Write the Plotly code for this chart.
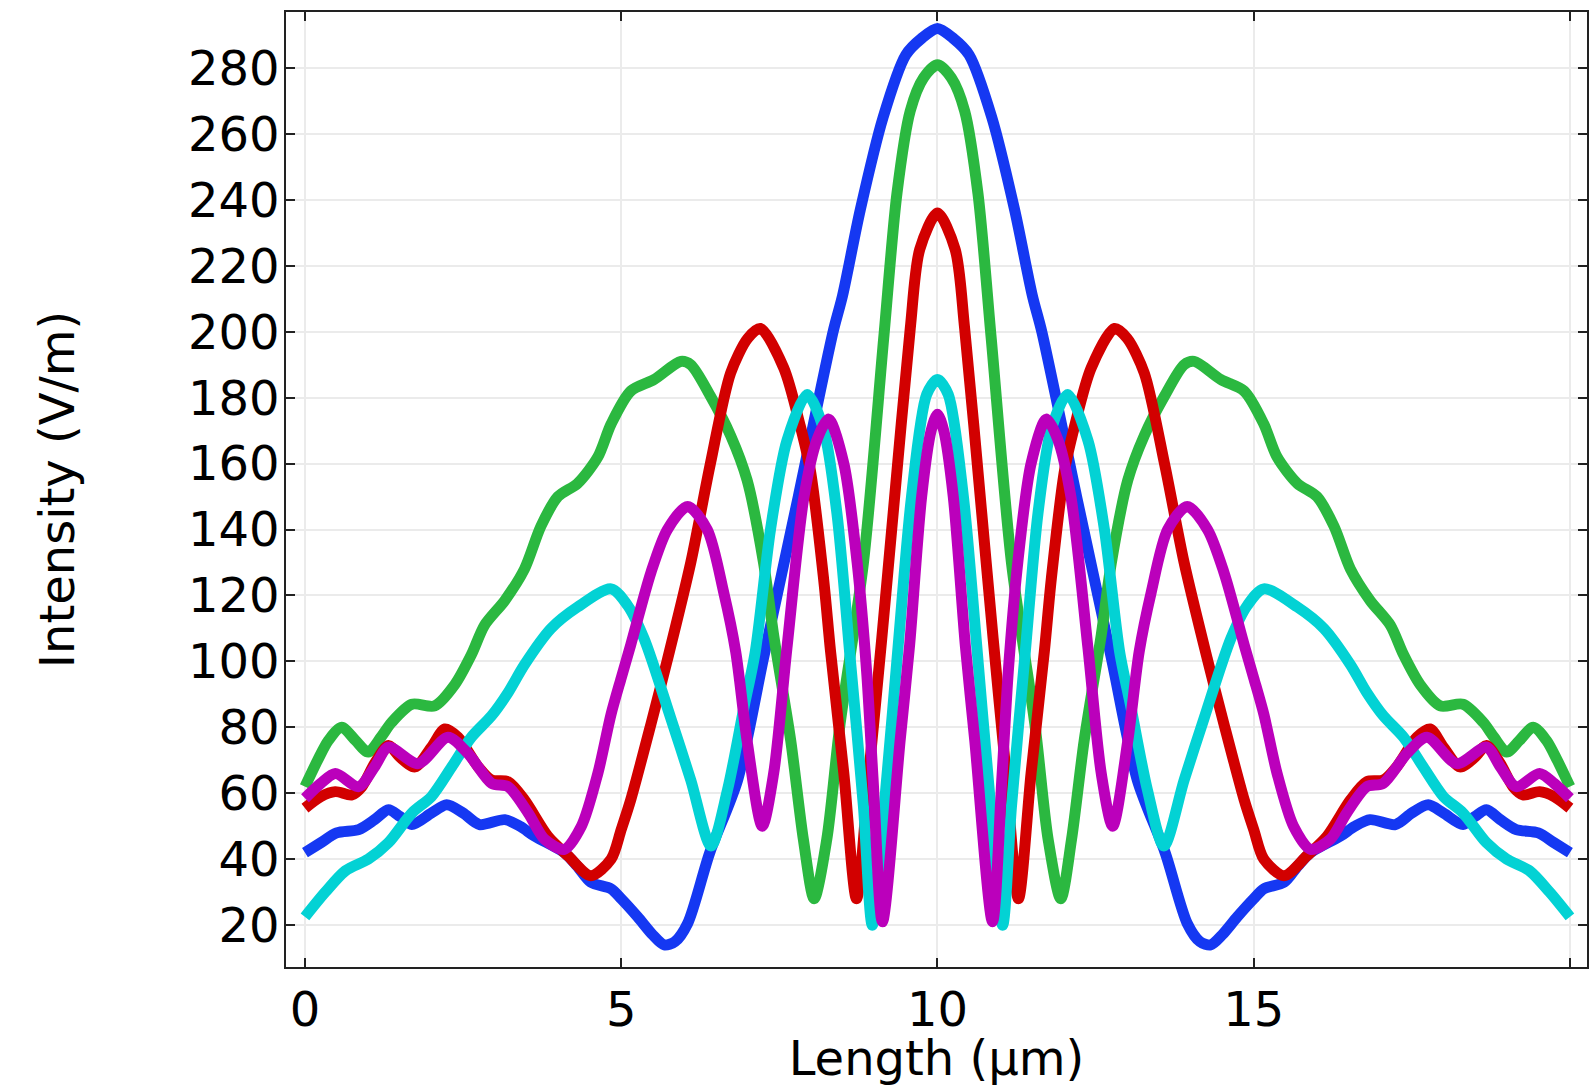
import plotly.graph_objects as go

# ---- data (x in µm, intensity in V/m) ----
BLUE_X = [0, 0.25, 0.5, 0.85, 1.1, 1.32, 1.5, 1.69, 2.0, 2.24, 2.5, 2.76, 3.16, 3.4, 3.63, 4.1, 4.3, 4.52, 4.84, 5.0,
          5.26, 5.5, 5.68, 5.85, 6.05, 6.4, 6.84, 7.25, 7.8, 8.35, 8.5, 8.78, 9.14, 9.5, 9.75, 10.0,
          10.25, 10.5, 10.86, 11.22, 11.5, 11.65, 12.2, 12.75, 13.16, 13.6, 13.95, 14.15, 14.32, 14.5, 14.74,
          15.0, 15.16, 15.48, 15.7, 15.9, 16.37, 16.6, 16.84, 17.24, 17.5, 17.76, 18.0, 18.31, 18.5, 18.68,
          18.9, 19.15, 19.5, 19.75, 20.0]
BLUE_Y = [42, 45, 48, 49, 52, 55, 53, 50.5, 54, 56.5, 54, 50.5, 52, 50, 47, 42, 38, 33, 31, 28,
          22.5, 17, 14, 15, 20.5, 42, 64, 101, 150, 200, 211, 237, 265, 284, 289, 292,
          289, 284, 265, 237, 211, 200, 150, 101, 64, 42, 20.5, 15, 14, 17, 22.5,
          28, 31, 33, 38, 42, 47, 50, 52, 50.5, 54, 56.5, 54, 50.5, 53, 55,
          52, 49, 48, 45, 42]

GREEN_X = [0, 0.2, 0.37, 0.58, 0.8, 1.0, 1.2, 1.37, 1.69, 2.05, 2.37, 2.63, 2.84, 3.16, 3.47, 3.73, 4.0, 4.31,
           4.63, 4.84, 5.15, 5.52, 5.94, 6.1, 6.41, 6.73, 6.99, 7.25, 7.41, 7.68, 7.88, 8.05, 8.25, 8.46, 8.83,
           9.15, 9.36, 9.57, 9.78, 10.0,
           10.22, 10.43, 10.64, 10.85, 11.17, 11.54, 11.75, 11.95, 12.12, 12.32, 12.59, 12.75, 13.01, 13.27,
           13.59, 13.9, 14.06, 14.48, 14.85, 15.16, 15.37, 15.69, 16.0, 16.27, 16.53, 16.84, 17.16, 17.37,
           17.63, 17.95, 18.31, 18.63, 18.8, 19.0, 19.2, 19.42, 19.63, 19.8, 20.0]
GREEN_Y = [62, 70, 76, 80, 76, 72.5, 77, 81.5, 87, 86.5, 93, 102, 111, 118.5, 128, 141, 150, 154,
           162, 172, 182, 185.5, 191, 190, 180.5, 168.5, 155, 130, 108, 76, 46, 28, 46, 81, 130,
           198, 242, 267, 277, 281,
           277, 267, 242, 198, 130, 81, 46, 28, 46, 76, 108, 130, 155, 168.5,
           180.5, 190, 191, 185.5, 182, 172, 162, 154, 150, 141, 128, 118.5, 111, 102,
           93, 86.5, 87, 81.5, 77, 72.5, 76, 80, 76, 70, 62]

RED_X = [0, 0.25, 0.48, 0.74, 0.9, 1.1, 1.32, 1.5, 1.74, 2.0, 2.21, 2.42, 2.74, 2.95, 3.21, 3.47, 3.84, 4.16,
         4.52, 4.84, 5.0, 5.15, 5.47, 5.73, 6.1, 6.41, 6.73, 7.0, 7.2, 7.57, 7.83, 7.99, 8.2, 8.31, 8.52,
         8.72, 8.92, 9.12, 9.3, 9.57, 9.72, 10.0,
         10.28, 10.43, 10.7, 10.88, 11.08, 11.28, 11.48, 11.69, 11.8, 12.01, 12.17, 12.43, 12.8, 13.0,
         13.27, 13.59, 13.9, 14.27, 14.53, 14.85, 15.0, 15.16, 15.48, 15.84, 16.16, 16.53, 16.79, 17.05,
         17.26, 17.58, 17.79, 18.0, 18.26, 18.5, 18.68, 18.9, 19.1, 19.26, 19.52, 19.75, 20.0]
RED_Y = [55.5, 59, 60.5, 59.5, 62, 69, 74.5, 71, 68, 74, 79.5, 77, 68, 64, 63.5, 58, 47, 41,
         35, 40, 49, 58, 81, 100.5, 130, 160, 187.5, 198, 201, 189, 171.5, 158, 125, 103, 66,
         28, 67, 107, 145, 201, 225, 236,
         225, 201, 145, 107, 67, 28, 66, 103, 125, 158, 171.5, 189, 201, 198,
         187.5, 160, 130, 100.5, 81, 58, 49, 40, 35, 41, 47, 58, 63.5, 64,
         68, 77, 79.5, 74, 68, 71, 74.5, 69, 62, 59.5, 60.5, 59, 55.5]

CYAN_X = [0, 0.32, 0.64, 1.0, 1.32, 1.69, 2.0, 2.32, 2.63, 2.95, 3.21, 3.47, 3.89, 4.31, 4.84, 5.1, 5.36,
          5.78, 6.1, 6.42, 6.68, 6.94, 7.12, 7.36, 7.62, 7.94, 8.2, 8.41, 8.62, 8.83, 8.97, 9.2, 9.38,
          9.59, 9.83, 10.0,
          10.17, 10.41, 10.62, 10.8, 11.03, 11.17, 11.38, 11.59, 11.8, 12.06, 12.38, 12.64, 12.88, 13.06,
          13.32, 13.58, 13.9, 14.22, 14.64, 14.9, 15.16, 15.69, 16.11, 16.53, 16.79, 17.05, 17.37, 17.68,
          18.0, 18.31, 18.68, 19.0, 19.36, 19.68, 20.0]
CYAN_Y = [22.5, 30, 36.5, 40, 45, 54, 59, 68, 77, 83.5, 90.5, 99, 110, 116.5, 122, 117, 107,
          83, 64, 44, 61, 86, 103, 140, 167, 181, 170.5, 145, 101, 56, 20, 65, 105,
          150, 181, 185.5,
          181, 150, 105, 65, 20, 56, 101, 145, 170.5, 181, 167, 140, 103, 86,
          61, 44, 64, 83, 107, 117, 122, 116.5, 110, 99, 90.5, 83.5, 77, 68,
          59, 54, 45, 40, 36.5, 30, 22.5]

MAGENTA_X = [0, 0.25, 0.48, 0.85, 1.1, 1.32, 1.79, 2.26, 2.58, 2.95, 3.21, 3.53, 3.79, 4.1, 4.37, 4.63, 4.84,
             5.0, 5.15, 5.47, 5.73, 6.05, 6.36, 6.62, 6.81, 6.99, 7.23, 7.41, 7.62, 7.89, 8.1, 8.28, 8.52,
             8.73, 8.88, 8.98, 9.13, 9.41, 9.56, 9.75, 9.9, 10.0,
             10.1, 10.25, 10.44, 10.59, 10.87, 11.02, 11.12, 11.27, 11.48, 11.72, 11.9, 12.11, 12.38, 12.59,
             12.77, 13.01, 13.19, 13.38, 13.64, 13.95, 14.27, 14.53, 14.85, 15.0, 15.16, 15.37, 15.63, 15.9,
             16.21, 16.47, 16.79, 17.05, 17.42, 17.74, 18.21, 18.68, 18.9, 19.15, 19.52, 19.75, 20.0]
MAGENTA_Y = [58.5, 63, 66, 62, 68, 74, 69, 77, 72, 63, 62, 54, 46, 43, 50, 66, 84,
             95, 105, 127, 140, 147, 140, 121, 103, 76, 50, 66, 104, 150, 167.5, 173.5, 160,
             130, 97, 65, 21, 76, 105, 150, 170, 175,
             170, 150, 105, 76, 21, 65, 97, 130, 160, 173.5, 167.5, 150, 104, 66,
             50, 76, 103, 121, 140, 147, 140, 127, 105, 95, 84, 66, 50, 43,
             46, 54, 62, 63, 72, 77, 69, 74, 68, 62, 66, 63, 58.5]

X_TICKS = [0, 5, 10, 15, 20]
X_TICK_TEXT = ["0", "5", "10", "15", ""]
Y_TICKS = [20, 40, 60, 80, 100, 120, 140, 160, 180, 200, 220, 240, 260, 280]

SERIES = [
    ("blue", BLUE_X, BLUE_Y, "#1538f2"),
    ("green", GREEN_X, GREEN_Y, "#2bb840"),
    ("red", RED_X, RED_Y, "#d20000"),
    ("cyan", CYAN_X, CYAN_Y, "#03d2d4"),
    ("magenta", MAGENTA_X, MAGENTA_Y, "#bb00bb"),
]

fig = go.Figure()
for name, xs, ys, col in SERIES:
    fig.add_trace(go.Scatter(x=xs, y=ys, mode="lines", name=name,
                             line=dict(color=col, width=11, shape="spline", smoothing=0.8),
                             showlegend=False))

FONT = "DejaVu Sans"
fig.update_layout(
    width=1590, height=1086,
    margin=dict(l=286, r=1, t=12, b=119),
    paper_bgcolor="white", plot_bgcolor="white",
    font=dict(family=FONT, size=48, color="black"),
)
axis_common = dict(
    showline=True, linecolor="#222222", linewidth=1.5, mirror="ticks",
    ticks="inside", ticklen=9, tickwidth=1.5, tickcolor="#222222",
    showgrid=True, gridcolor="#ebebeb", gridwidth=2, zeroline=False,
    tickfont=dict(family=FONT, size=48, color="black"),
)
fig.update_xaxes(range=[-0.30, 20.27], tickmode="array", tickvals=X_TICKS, ticktext=X_TICK_TEXT,
                 title=dict(text="Length (µm)", font=dict(family=FONT, size=48, color="black"), standoff=6),
                 **axis_common)
fig.update_yaxes(range=[7.3, 297], tickmode="array", tickvals=Y_TICKS, ticklabelstandoff=-5,
                 title=dict(text="Intensity (V/m)", font=dict(family=FONT, size=48, color="black"), standoff=98),
                 **axis_common)

fig.write_html("out.html", config={"displayModeBar": False},
               post_script="document.body.style.margin='0';document.body.style.padding='0';")
